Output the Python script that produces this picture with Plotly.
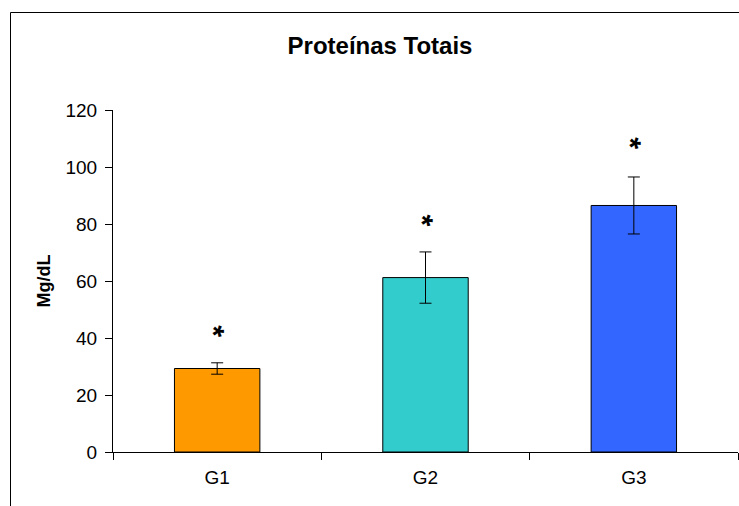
import plotly.graph_objects as go

categories = ["G1", "G2", "G3"]
values = [29.3, 61.2, 86.5]
errors = [2.0, 9.0, 10.0]
colors = ["#FF9900", "#33CCCC", "#3366FF"]
star_y = [41, 80, 107]
y_ticks = [0, 20, 40, 60, 80, 100, 120]

W, H = 739, 506
L, R, T, B = 113, 1, 110, 54
pw, ph = W - L - R, H - T - B

def px(x):  # page pixel -> paper x
    return (x - L) / pw

def py(y):  # page pixel -> paper y
    return (H - B - y) / ph

fig = go.Figure()
fig.add_trace(go.Bar(
    x=categories, y=values, width=0.41,
    marker=dict(color=colors, line=dict(color="black", width=1)),
    error_y=dict(type="data", array=errors, visible=True, color="black", thickness=1, width=6),
    showlegend=False,
))
for c, sy in zip(categories, star_y):
    fig.add_annotation(x=c, y=sy, text="<b>*</b>", showarrow=False,
                       font=dict(family="Liberation Sans", size=30, color="black"), textangle=20)

fig.add_shape(type="line", xref="paper", yref="paper", x0=px(10.5), x1=px(10.5), y0=py(12.5), y1=py(530),
              line=dict(color="black", width=1))
fig.add_shape(type="line", xref="paper", yref="paper", x0=px(10.5), x1=px(760), y0=py(12.5), y1=py(12.5),
              line=dict(color="black", width=1))

fig.update_layout(
    width=W, height=H,
    margin=dict(l=L, r=R, t=T, b=B),
    paper_bgcolor="white", plot_bgcolor="white",
    font=dict(family="Liberation Sans", size=19, color="black"),
    title=dict(text="<b>Proteínas Totais</b>", xref="container", x=380 / W, xanchor="center",
               yref="container", y=1 - 46 / H, yanchor="middle",
               font=dict(size=24, family="Liberation Sans")),
)
fig.update_xaxes(range=[-0.5, 2.5], showline=True, linecolor="black", linewidth=1,
                 ticks="outside", tickson="boundaries", ticklen=7, tickcolor="black",
                 showgrid=False, tickfont=dict(size=19), ticklabelstandoff=8)
fig.update_yaxes(range=[0, 120], tickvals=y_ticks, showline=True, linecolor="black", linewidth=1,
                 ticks="outside", ticklen=7, tickcolor="black", showgrid=False, zeroline=False,
                 title=dict(text="<b>Mg/dL</b>", font=dict(size=18), standoff=10),
                 tickfont=dict(size=19), ticklabelstandoff=4)

fig.write_html("out.html", config={"displayModeBar": False},
               post_script="document.body.style.margin='0';document.body.style.overflow='hidden';")
